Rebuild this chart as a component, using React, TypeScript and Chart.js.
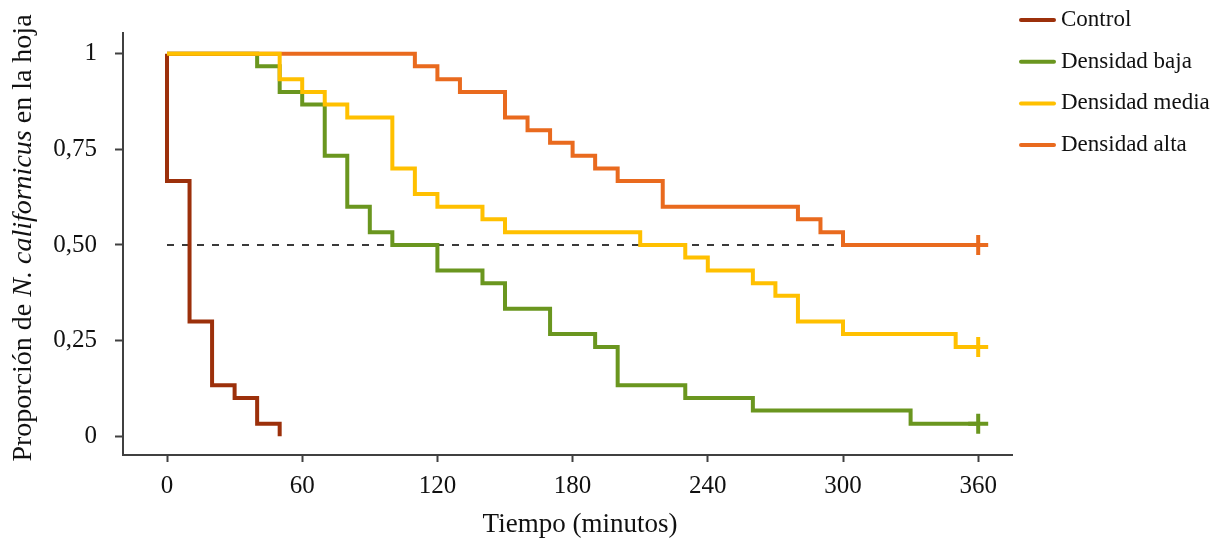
import React, { useEffect, useRef } from "react";
import { Chart, registerables } from "chart.js";

Chart.register(...registerables);

// ---- Data ----
const xTickValues = [0, 60, 120, 180, 240, 300, 360];
const yTickValues = [0, 0.25, 0.5, 0.75, 1];
const yTickLabels = ["0", "0,25", "0,50", "0,75", "1"];

const seriesLabels = ["Control", "Densidad baja", "Densidad media", "Densidad alta"];
const seriesColors = ["#9C300B", "#6A961F", "#FFC000", "#E96A1E"];
const seriesCensored = [false, true, true, true];

const controlTimes = [0, 0, 10, 20, 30, 40, 50];
const controlValues = [1, 0.667, 0.3, 0.133, 0.1, 0.033, 0];

const bajaTimes = [0, 40, 50, 60, 70, 80, 90, 100, 120, 140, 150, 170, 190, 200, 230, 260, 330, 360];
const bajaValues = [1, 0.967, 0.9, 0.867, 0.733, 0.6, 0.533, 0.5, 0.433, 0.4, 0.333, 0.267, 0.233, 0.133, 0.1, 0.067, 0.033, 0.033];

const mediaTimes = [0, 50, 60, 70, 80, 100, 110, 120, 140, 150, 210, 230, 240, 260, 270, 280, 300, 350, 360];
const mediaValues = [1, 0.933, 0.9, 0.867, 0.833, 0.7, 0.633, 0.6, 0.567, 0.533, 0.5, 0.467, 0.433, 0.4, 0.367, 0.3, 0.267, 0.233, 0.233];

const altaTimes = [0, 110, 120, 130, 150, 160, 170, 180, 190, 200, 220, 280, 290, 300, 360];
const altaValues = [1, 0.967, 0.933, 0.9, 0.833, 0.8, 0.767, 0.733, 0.7, 0.667, 0.6, 0.567, 0.533, 0.5, 0.5];

const medianTimes = [0, 300];
const medianValues = [0.5, 0.5];

const xTitle = "Tiempo (minutos)";
const yTitleParts = [
  { text: "Proporción de ", italic: false },
  { text: "N. californicus", italic: true },
  { text: " en la hoja", italic: false },
];

const FONT = "'Liberation Serif', 'Times New Roman', serif";
const AXIS_COLOR = "#404040";
const TEXT_COLOR = "#111111";

const seriesTimes = [controlTimes, bajaTimes, mediaTimes, altaTimes];
const seriesValues = [controlValues, bajaValues, mediaValues, altaValues];
const seriesOrder = [1, 3, 0, 2];

const toPoints = (xs: number[], ys: number[]) => xs.map((x, i) => ({ x, y: ys[i] }));

const decorPlugin = {
  id: "decor",
  afterDraw(chart: any) {
    const ctx = chart.ctx as CanvasRenderingContext2D;
    ctx.save();
    // Y title (mixed italic)
    ctx.translate(24, 238);
    ctx.rotate(-Math.PI / 2);
    ctx.textBaseline = "middle";
    ctx.fillStyle = TEXT_COLOR;
    const fontOf = (it: boolean) => `${it ? "italic " : ""}28px ${FONT}`;
    let total = 0;
    yTitleParts.forEach((p) => {
      ctx.font = fontOf(p.italic);
      total += ctx.measureText(p.text).width;
    });
    let cx = -total / 2;
    ctx.textAlign = "left";
    yTitleParts.forEach((p) => {
      ctx.font = fontOf(p.italic);
      ctx.fillText(p.text, cx, 0);
      cx += ctx.measureText(p.text).width;
    });
    ctx.restore();

    // X title
    ctx.save();
    ctx.font = `27px ${FONT}`;
    ctx.fillStyle = TEXT_COLOR;
    ctx.textAlign = "center";
    ctx.textBaseline = "alphabetic";
    ctx.fillText(xTitle, 580, 532);
    ctx.restore();

    // Legend
    ctx.save();
    seriesLabels.forEach((label, i) => {
      const y = 20 + i * 41.7;
      ctx.strokeStyle = seriesColors[i];
      ctx.lineWidth = 4;
      ctx.lineCap = "round";
      ctx.beginPath();
      ctx.moveTo(1021, y);
      ctx.lineTo(1054, y);
      ctx.stroke();
      ctx.font = `23px ${FONT}`;
      ctx.fillStyle = TEXT_COLOR;
      ctx.textAlign = "left";
      ctx.textBaseline = "middle";
      ctx.fillText(label, 1061, y);
    });
    ctx.restore();
  },
};

export default function App() {
  const canvasRef = useRef<HTMLCanvasElement | null>(null);

  useEffect(() => {
    const canvas = canvasRef.current;
    if (!canvas) return;

    const datasets: any[] = seriesLabels.map((label, i) => {
      const n = seriesTimes[i].length;
      return {
        label,
        data: toPoints(seriesTimes[i], seriesValues[i]),
        borderColor: seriesColors[i],
        backgroundColor: seriesColors[i],
        borderWidth: 4,
        stepped: "before",
        fill: false,
        tension: 0,
        borderJoinStyle: "miter",
        borderCapStyle: "butt",
        order: seriesOrder[i],
        pointStyle: "cross",
        pointRadius: seriesTimes[i].map((_, j) => (seriesCensored[i] && j === n - 1 ? 10 : 0)),
        pointHoverRadius: 0,
        pointBorderWidth: 4,
        pointBorderColor: seriesColors[i],
      };
    });
    datasets.push({
      label: "Mediana",
      data: toPoints(medianTimes, medianValues),
      borderColor: "#3a3a3a",
      borderWidth: 2,
      borderDash: [7, 8],
      pointRadius: 0,
      fill: false,
      order: 10,
    });

    const chart = new Chart(canvas, {
      type: "line",
      data: { datasets },
      options: {
        animation: false,
        responsive: false,
        devicePixelRatio: 1,
        events: [],
        layout: { padding: { top: 27, right: 218, left: 0, bottom: 0 } },
        plugins: {
          legend: { display: false },
          tooltip: { enabled: false },
        },
        scales: {
          x: {
            type: "linear",
            min: -19.53,
            max: 375,
            afterBuildTicks: (s: any) => {
              s.ticks = xTickValues.map((v) => ({ value: v }));
            },
            afterFit: (s: any) => {
              s.height = 86;
            },
            grid: {
              display: true,
              drawOnChartArea: false,
              drawTicks: true,
              tickLength: 7,
              tickWidth: 2,
              tickColor: AXIS_COLOR,
            },
            border: { display: true, color: AXIS_COLOR, width: 2 },
            ticks: {
              autoSkip: false,
              maxRotation: 0,
              padding: 9,
              color: TEXT_COLOR,
              font: { family: FONT, size: 25 },
              callback: (v: any) => String(v),
            },
          },
          y: {
            type: "linear",
            min: -0.049,
            max: 1.054,
            afterBuildTicks: (s: any) => {
              s.ticks = yTickValues.map((v) => ({ value: v }));
            },
            afterFit: (s: any) => {
              s.width = 123;
            },
            grid: {
              display: true,
              drawOnChartArea: false,
              drawTicks: true,
              tickLength: 8,
              tickWidth: 2,
              tickColor: AXIS_COLOR,
            },
            border: { display: true, color: AXIS_COLOR, width: 2 },
            ticks: {
              autoSkip: false,
              padding: 18,
              color: TEXT_COLOR,
              font: { family: FONT, size: 25 },
              callback: (v: any) => {
                const idx = yTickValues.indexOf(Number(v));
                return idx >= 0 ? yTickLabels[idx] : "";
              },
            },
          },
        },
      } as any,
      plugins: [decorPlugin],
    });

    return () => {
      chart.destroy();
    };
  }, []);

  return (
    <div style={{ position: "fixed", left: 0, top: 0, width: 1230, height: 541, background: "#ffffff" }}>
      <canvas ref={canvasRef} width={1230} height={541} style={{ display: "block", width: 1230, height: 541 }} />
    </div>
  );
}
